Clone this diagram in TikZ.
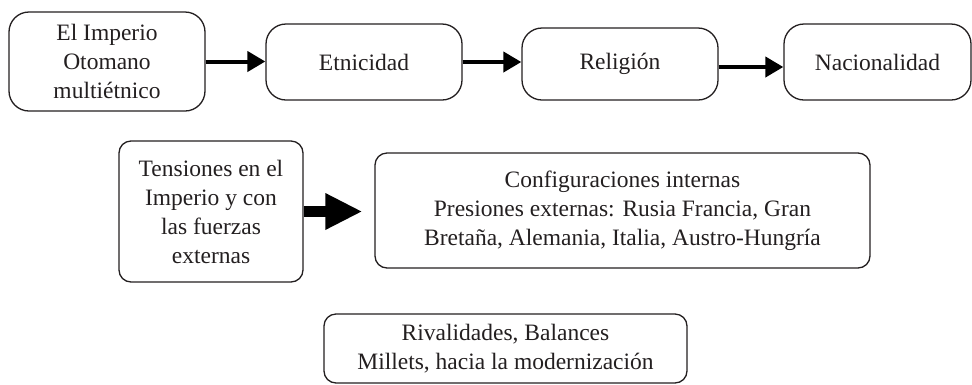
\documentclass[tikz,border=0pt]{standalone}
\usepackage{fontspec}
\setmainfont{Liberation Serif}
\usetikzlibrary{arrows.meta}
\definecolor{ink}{HTML}{231F20}
\tikzset{
  box/.style={draw=ink, line width=1.3pt, text=ink, inner sep=0pt, align=center,
    font=\fontsize{23.5}{29}\selectfont},
  bigr/.style={box, rounded corners=20pt},
  smr/.style={box, rounded corners=12pt},
  thinarrow/.style={draw=black, line width=4pt, -{Triangle[length=18pt,width=20pt]}},
  thickarrow/.style={draw=black, line width=11pt, -{Triangle[length=37pt,width=34pt]}}
}
\begin{document}
\begin{tikzpicture}[x=1pt,y=-1pt]
\useasboundingbox (0,0) rectangle (972,384);
\node[bigr, minimum width=196pt, minimum height=99pt] (b1) at (107,61.5) {El Imperio\\Otomano\\multiétnico};
\node[bigr, minimum width=196pt, minimum height=76pt] (b2) at (364,62) {Etnicidad};
\node[bigr, minimum width=196pt, minimum height=72pt] (b3) at (620,64) {Religión};
\node[bigr, minimum width=187pt, minimum height=76pt] (b4) at (877.5,62) {Nacionalidad};
\node[smr, minimum width=184pt, minimum height=141pt] (b5) at (211,211.5) {Tensiones en el\\Imperio y con\\las fuerzas\\externas};
\node[smr, minimum width=495pt, minimum height=115pt] (b6) at (622.5,210.5) {Configuraciones internas\\Presiones externas: Rusia Francia, Gran\\Bretaña, Alemania, Italia, Austro-Hungría};
\node[smr, minimum width=363pt, minimum height=69pt] (b7) at (505.5,348.5) {Rivalidades, Balances\\Millets, hacia la modernización};
\draw[thinarrow] (b1.east) -- (b1.east -| b2.west);
\draw[thinarrow] (b2.east) -- (b2.east -| b3.west);
\draw[thinarrow] ([yshift=-3pt]b3.east) -- ([yshift=-3pt]b3.east -| b4.west);
\draw[thickarrow, shorten >=12pt] (b5.east) -- (b5.east -| b6.west);
\end{tikzpicture}
\end{document}
